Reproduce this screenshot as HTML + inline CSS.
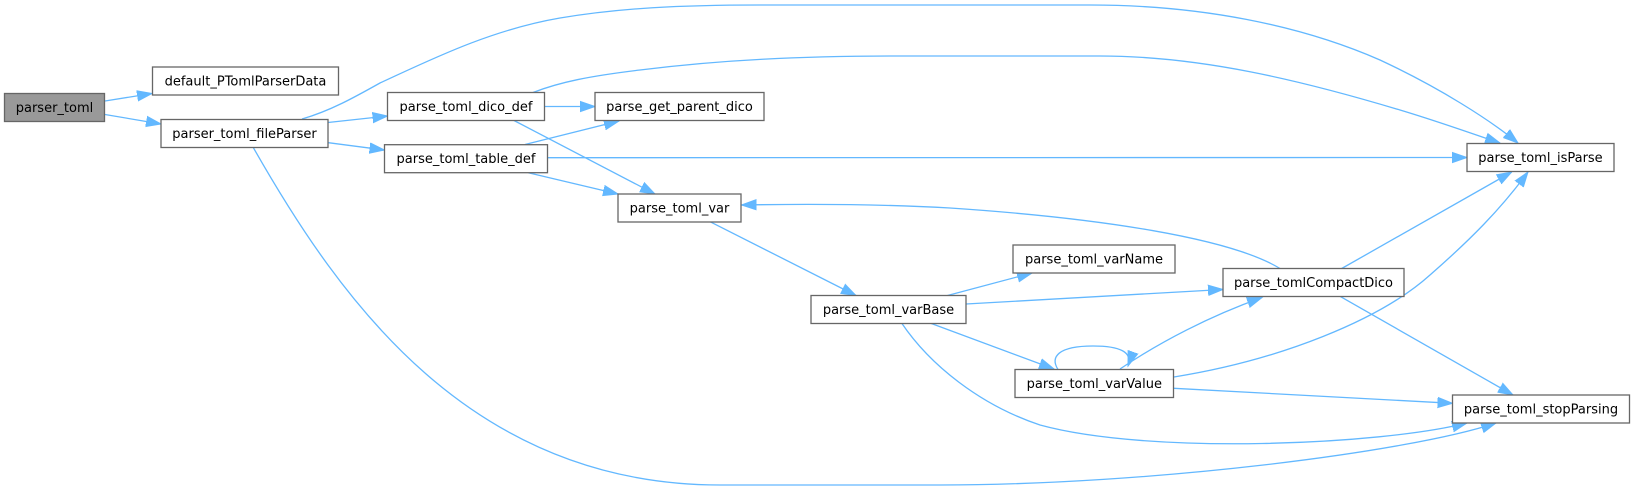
<!DOCTYPE html>
<html>
<head>
<meta charset="utf-8">
<style>
  html, body { margin: 0; padding: 0; background: #ffffff; }
  body { width: 1634px; height: 491px; overflow: hidden; }
  svg { display: block; }
  .n rect { fill: #ffffff; stroke: #666666; stroke-width: 1.3; }
  .n text { font-family: "DejaVu Sans", "Liberation Sans", sans-serif; font-size: 13px; fill: #000000; text-anchor: middle; }
  .e { fill: none; stroke: #63b8ff; stroke-width: 1.3; marker-end: url(#ah); }
</style>
</head>
<body>
<svg width="1634" height="491" viewBox="0 0 1634 491" xmlns="http://www.w3.org/2000/svg">
  <defs>
    <marker id="ah" markerUnits="userSpaceOnUse" markerWidth="17" markerHeight="13" refX="15" refY="6" orient="auto">
      <path d="M0,0.8 L15,6 L0,11.2 z" fill="#63b8ff" stroke="#63b8ff" stroke-width="1"/>
    </marker>
  </defs>

  <!-- edges -->
  <path class="e" d="M105,101 L152,93.5"/>
  <path class="e" d="M105,114.5 L161,124"/>
  <path class="e" d="M302,119 C330,111 355,97 380,83 C430,60 490,30 560,18 C620,8 680,5 760,5 L1090,5 C1200,5 1300,25 1380,60 C1440,88 1490,120 1518,143"/>
  <path class="e" d="M533,92.5 C560,82 590,76 640,70 C720,60 800,56 900,56 L1100,56 C1200,56 1300,80 1400,110 C1440,122 1470,133 1500,143"/>
  <path class="e" d="M328,122.5 L387.5,116"/>
  <path class="e" d="M328.3,142.7 L384.5,150"/>
  <path class="e" d="M253,147 C340,300 470,485 720,485 L940,485 C1150,485 1410,452 1496,423"/>
  <path class="e" d="M544.5,106.5 L595,106.5"/>
  <path class="e" d="M514,120.5 L655,194"/>
  <path class="e" d="M525,144.5 L619,121"/>
  <path class="e" d="M547.5,157.7 L1467,157.5"/>
  <path class="e" d="M528.3,172.7 L618,194"/>
  <path class="e" d="M710,221.7 L856,295.5"/>
  <path class="e" d="M1280,268.5 C1230,238 1100,218 950,208 C880,204 800,204 741.5,205"/>
  <path class="e" d="M947.5,295.5 L1032,273"/>
  <path class="e" d="M966,304 L1223,289.5"/>
  <path class="e" d="M930,323 L1054,369"/>
  <path class="e" d="M901.6,323 C930,365 980,405 1040,425 C1150,455 1380,445 1467,423"/>
  <path class="e" d="M1058,369.5 C1050,357 1058,346 1093,346 C1120,346 1133,352 1128,366"/>
  <path class="e" d="M1120,369 C1160,342 1210,316 1262,297.5"/>
  <path class="e" d="M1174,377 C1280,360 1380,320 1430,275 C1470,240 1500,210 1528,172"/>
  <path class="e" d="M1174,388.3 L1452.5,403.3"/>
  <path class="e" d="M1341.7,268.5 L1511.7,172"/>
  <path class="e" d="M1340,296.3 L1513,395"/>

  <!-- nodes -->
  <g class="n">
    <rect x="4.5" y="93.5" width="100" height="28" style="fill:#999999"/>
    <text x="54.5" y="112">parser_toml</text>
  </g>
  <g class="n">
    <rect x="152.5" y="67" width="186" height="28"/>
    <text x="245.5" y="85.5">default_PTomlParserData</text>
  </g>
  <g class="n">
    <rect x="161" y="119.5" width="167" height="28"/>
    <text x="244.5" y="138">parser_toml_fileParser</text>
  </g>
  <g class="n">
    <rect x="387.5" y="92.5" width="157" height="28"/>
    <text x="466" y="111">parse_toml_dico_def</text>
  </g>
  <g class="n">
    <rect x="384.5" y="144.7" width="163" height="28"/>
    <text x="466" y="163.2">parse_toml_table_def</text>
  </g>
  <g class="n">
    <rect x="595" y="92.5" width="169" height="28"/>
    <text x="679.5" y="111">parse_get_parent_dico</text>
  </g>
  <g class="n">
    <rect x="618" y="194" width="123" height="28"/>
    <text x="679.5" y="212.5">parse_toml_var</text>
  </g>
  <g class="n">
    <rect x="811" y="295.5" width="155" height="28"/>
    <text x="888.5" y="314">parse_toml_varBase</text>
  </g>
  <g class="n">
    <rect x="1013" y="245" width="162" height="28"/>
    <text x="1094" y="263.5">parse_toml_varName</text>
  </g>
  <g class="n">
    <rect x="1015" y="369.5" width="158.5" height="28"/>
    <text x="1094.3" y="388">parse_toml_varValue</text>
  </g>
  <g class="n">
    <rect x="1223" y="268.5" width="181" height="28"/>
    <text x="1313.5" y="287">parse_tomlCompactDico</text>
  </g>
  <g class="n">
    <rect x="1467" y="143.5" width="147" height="28"/>
    <text x="1540.5" y="162">parse_toml_isParse</text>
  </g>
  <g class="n">
    <rect x="1452.5" y="395" width="177" height="28"/>
    <text x="1541" y="413.5">parse_toml_stopParsing</text>
  </g>
</svg>
</body>
</html>
